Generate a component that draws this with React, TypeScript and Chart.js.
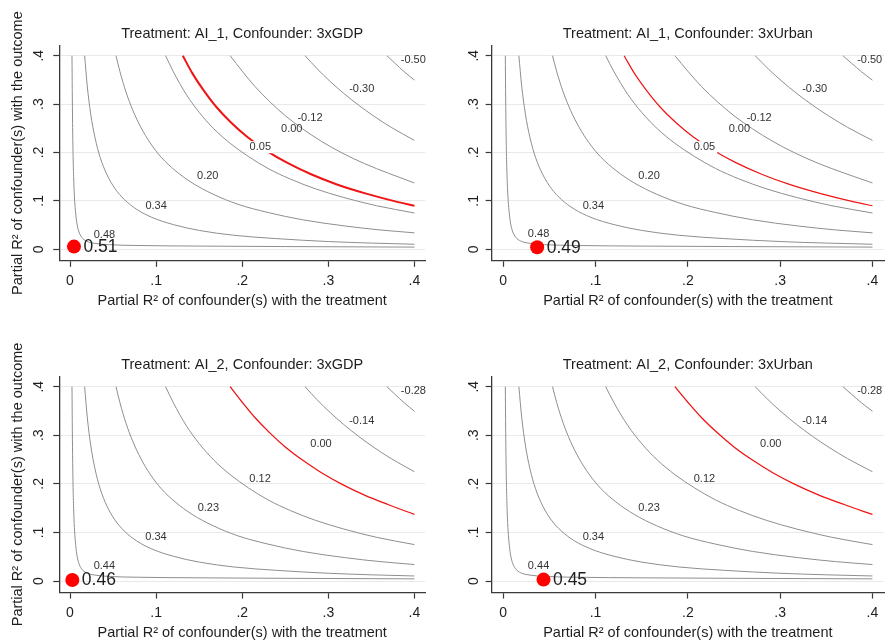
import React, { useEffect, useRef } from "react";
import { Chart, registerables } from "chart.js";

Chart.register(...registerables);

const FONT = '"Liberation Sans", Arial, Helvetica, sans-serif';

// ---- axis ticks ----
const axisTicks = [0, 0.1, 0.2, 0.3, 0.4];
const axisTickLabels = ["0", ".1", ".2", ".3", ".4"];

// ---- contour curves: [R2 with treatment, R2 with outcome] ----
const curveA: number[][] = [
  [0.0023, 0.4], [0.0026, 0.33], [0.003, 0.26], [0.0035, 0.2], [0.0042, 0.15], [0.0051, 0.11],
  [0.0063, 0.08], [0.0078, 0.056], [0.01, 0.038], [0.0135, 0.025], [0.019, 0.017], [0.028, 0.0125],
  [0.045, 0.0095], [0.08, 0.0078], [0.15, 0.0066], [0.25, 0.0056], [0.4, 0.0045],
];
const curveB: number[][] = [
  [0.017, 0.4], [0.02, 0.338], [0.024, 0.28], [0.029, 0.231], [0.035, 0.19], [0.043, 0.154],
  [0.052, 0.126], [0.063, 0.103], [0.077, 0.083], [0.095, 0.066], [0.12, 0.051], [0.15, 0.039],
  [0.19, 0.029], [0.24, 0.022], [0.3, 0.016], [0.35, 0.0128], [0.4, 0.0104],
];
const curveC: number[][] = [
  [0.0534, 0.4], [0.058, 0.367], [0.065, 0.325], [0.073, 0.287], [0.082, 0.253], [0.093, 0.22],
  [0.106, 0.19], [0.122, 0.163], [0.142, 0.137], [0.166, 0.114], [0.195, 0.093], [0.23, 0.076],
  [0.27, 0.061], [0.32, 0.048], [0.36, 0.04], [0.4, 0.034],
];
const curveD: number[][] = [
  [0.111, 0.4], [0.12, 0.367], [0.135, 0.32], [0.15, 0.283], [0.167, 0.249], [0.186, 0.219],
  [0.207, 0.192], [0.23, 0.167], [0.256, 0.145], [0.285, 0.125], [0.318, 0.107], [0.356, 0.09],
  [0.4, 0.075],
];
const curveZeroAI1: number[][] = [
  [0.131, 0.4], [0.142, 0.364], [0.155, 0.329], [0.17, 0.294], [0.187, 0.262], [0.206, 0.232],
  [0.228, 0.204], [0.252, 0.179], [0.28, 0.155], [0.31, 0.134], [0.344, 0.115], [0.38, 0.098],
  [0.4, 0.09],
];
const curveE: number[][] = [
  [0.186, 0.4], [0.2, 0.368], [0.215, 0.336], [0.232, 0.305], [0.25, 0.276], [0.27, 0.249],
  [0.292, 0.223], [0.316, 0.199], [0.342, 0.177], [0.37, 0.157], [0.4, 0.137],
];
const curveF: number[][] = [
  [0.273, 0.4], [0.287, 0.373], [0.302, 0.347], [0.318, 0.322], [0.335, 0.298], [0.353, 0.275],
  [0.373, 0.252], [0.4, 0.225],
];
const curveG: number[][] = [
  [0.368, 0.4], [0.377, 0.385], [0.388, 0.367], [0.4, 0.3495],
];

// ---- contour labels: [text, x, y] ----
const labelsAI1GDP: [string, number, number][] = [
  ["0.48", 0.04, 0.03], ["0.34", 0.1, 0.09], ["0.20", 0.16, 0.151], ["0.05", 0.221, 0.211],
  ["0.00", 0.2575, 0.2486], ["-0.12", 0.2787, 0.2707], ["-0.30", 0.3388, 0.331], ["-0.50", 0.3987, 0.391],
];
const labelsAI1Urban: [string, number, number][] = [
  ["0.48", 0.0383, 0.031], ["0.34", 0.0977, 0.09], ["0.20", 0.158, 0.1515], ["0.05", 0.218, 0.211],
  ["0.00", 0.2558, 0.2485], ["-0.12", 0.2773, 0.2706], ["-0.30", 0.3374, 0.331], ["-0.50", 0.397, 0.391],
];
const labelsAI2GDP: [string, number, number][] = [
  ["0.44", 0.0399, 0.0309], ["0.34", 0.0999, 0.0899], ["0.23", 0.1607, 0.151], ["0.12", 0.2207, 0.21],
  ["0.00", 0.2915, 0.282], ["-0.14", 0.3388, 0.33], ["-0.28", 0.3988, 0.391],
];
const labelsAI2Urban: [string, number, number][] = [
  ["0.44", 0.0383, 0.0309], ["0.34", 0.0977, 0.0899], ["0.23", 0.158, 0.151], ["0.12", 0.218, 0.21],
  ["0.00", 0.2898, 0.282], ["-0.14", 0.3374, 0.33], ["-0.28", 0.397, 0.391],
];

// ---- benchmark points ----
const pointAI1GDP = [0.0046, 0.0055];
const pointAI1Urban = [0.0368, 0.0041];
const pointAI2GDP = [0.0027, 0.002];
const pointAI2Urban = [0.0437, 0.003];
const pointValues = ["0.51", "0.49", "0.46", "0.45"];

const titles = [
  "Treatment: AI_1, Confounder: 3xGDP",
  "Treatment: AI_1, Confounder: 3xUrban",
  "Treatment: AI_2, Confounder: 3xGDP",
  "Treatment: AI_2, Confounder: 3xUrban",
];
const xTitle = "Partial R\u00B2 of confounder(s) with the treatment";
const yTitle = "Partial R\u00B2 of confounder(s) with the outcome";

type Panel = {
  title: string;
  gray: number[][][];
  red: number[][];
  labels: [string, number, number][];
  gapLabel: string | null;
  point: number[];
  pointText: string;
  showYTitle: boolean;
  left: number; top: number; w: number; h: number;
  yW: number; xH: number; padR: number;
  tPadT: number; tPadB: number;
  xTickPad: number; xTitlePadB: number;
  yTickPad: number; yTitlePadT: number;
  redWidth: number;
};

const panels: Panel[] = [
  {
    title: titles[0], gray: [curveA, curveB, curveC, curveD, curveE, curveF, curveG], red: curveZeroAI1,
    labels: labelsAI1GDP, gapLabel: "0.05", point: pointAI1GDP, pointText: pointValues[0], showYTitle: true,
    left: 0, top: 0, w: 445, h: 320, yW: 59.24, xH: 59.2, padR: 19.8, tPadT: 25.1, tPadB: 2.85,
    xTickPad: 5.8, xTitlePadB: 10.3, yTickPad: 7.95, yTitlePadT: 9.6, redWidth: 2,
  },
  {
    title: titles[1], gray: [curveA, curveB, curveC, curveD, curveE, curveF, curveG], red: curveZeroAI1,
    labels: labelsAI1Urban, gapLabel: "0.05", point: pointAI1Urban, pointText: pointValues[1], showYTitle: false,
    left: 445, top: 0, w: 446, h: 320, yW: 46.65, xH: 59.2, padR: 3.4, tPadT: 25.1, tPadB: 2.85,
    xTickPad: 5.8, xTitlePadB: 10.3, yTickPad: 5.3, yTitlePadT: 9.6, redWidth: 1.2,
  },
  {
    title: titles[2], gray: [curveA, curveB, curveC, curveD, curveF, curveG], red: curveE,
    labels: labelsAI2GDP, gapLabel: null, point: pointAI2GDP, pointText: pointValues[2], showYTitle: true,
    left: 0, top: 320, w: 445, h: 330, yW: 59.24, xH: 57.4, padR: 19.8, tPadT: 36.6, tPadB: 2.3,
    xTickPad: 5.7, xTitlePadB: 8.6, yTickPad: 7.95, yTitlePadT: 9.6, redWidth: 1.3,
  },
  {
    title: titles[3], gray: [curveA, curveB, curveC, curveD, curveF, curveG], red: curveE,
    labels: labelsAI2Urban, gapLabel: null, point: pointAI2Urban, pointText: pointValues[3], showYTitle: false,
    left: 445, top: 320, w: 446, h: 330, yW: 46.65, xH: 57.4, padR: 3.4, tPadT: 36.6, tPadB: 2.3,
    xTickPad: 5.7, xTitlePadB: 8.6, yTickPad: 5.3, yTitlePadT: 9.6, redWidth: 1.3,
  },
];

const X_MIN = -0.0125, X_MAX = 0.4125, Y_MIN = -0.0238, Y_MAX = 0.4214;
const GRAY = "#8e8e8e";
const RED = "#f01414";
const AXIS = "#3a3a3a";
const TEXT = "#1e1e1e";

function PanelChart({ p }: { p: Panel }) {
  const ref = useRef<HTMLCanvasElement | null>(null);
  useEffect(() => {
    if (!ref.current) return;
    const toXY = (c: number[][]) => c.map(([x, y]) => ({ x, y }));
    const lineDs = (c: number[][], color: string, width: number) => ({
      data: toXY(c), showLine: true, borderColor: color, borderWidth: width,
      pointRadius: 0, pointHoverRadius: 0, cubicInterpolationMode: "monotone" as const,
      fill: false, order: 2,
    });
    const datasets: any[] = [
      {
        data: [{ x: p.point[0], y: p.point[1] }], pointRadius: 7, pointBorderWidth: 0,
        pointBackgroundColor: "#ff0000", backgroundColor: "#ff0000", borderColor: "#ff0000", showLine: false, order: 0,
      },
      lineDs(p.red, RED, p.redWidth),
      ...p.gray.map((c) => lineDs(c, GRAY, 1)),
    ];
    const textPlugin = {
      id: "contourText",
      afterDatasetsDraw(chart: any) {
        const { ctx, scales } = chart;
        ctx.save();
        ctx.font = `11px ${FONT}`;
        ctx.textAlign = "center";
        ctx.textBaseline = "middle";
        for (const [txt, x, y] of p.labels) {
          const px = scales.x.getPixelForValue(x);
          const py = scales.y.getPixelForValue(y);
          if (p.gapLabel === txt) {
            const w = ctx.measureText(txt).width;
            ctx.fillStyle = "#ffffff";
            ctx.fillRect(px - w / 2 - 2, py - 6, w + 4, 12);
          }
          ctx.fillStyle = "#333333";
          ctx.fillText(txt, px, py);
        }
        ctx.font = `17.5px ${FONT}`;
        ctx.textAlign = "left";
        ctx.fillStyle = TEXT;
        const dx = scales.x.getPixelForValue(p.point[0]);
        const dy = scales.y.getPixelForValue(p.point[1]);
        ctx.fillText(p.pointText, dx + 9.5, dy + 0.5);
        ctx.restore();
      },
    };
    const chart = new Chart(ref.current, {
      type: "scatter",
      data: { datasets },
      plugins: [textPlugin],
      options: {
        responsive: false,
        animation: false,
        events: [],
        layout: { padding: { left: 0, top: 0, bottom: 0, right: p.padR } },
        plugins: {
          legend: { display: false },
          tooltip: { enabled: false },
          title: {
            display: true, text: p.title, fullSize: false, color: TEXT,
            font: { family: FONT, size: 14.5, weight: "normal" as any },
            padding: { top: p.tPadT, bottom: p.tPadB },
          },
        },
        scales: {
          x: {
            type: "linear", min: X_MIN, max: X_MAX,
            afterBuildTicks: (s: any) => { s.ticks = axisTicks.map((v) => ({ value: v })); },
            afterFit: (s: any) => { s.height = p.xH; },
            ticks: {
              callback: (_v: any, i: number) => axisTickLabels[i], autoSkip: false, maxRotation: 0, minRotation: 0,
              color: TEXT, font: { family: FONT, size: 14 }, padding: p.xTickPad,
            },
            grid: { drawOnChartArea: false, drawTicks: true, tickLength: 6, tickColor: AXIS, tickWidth: 1.2 },
            border: { display: true, color: AXIS, width: 1.3 },
            title: {
              display: true, text: xTitle, color: TEXT, font: { family: FONT, size: 14.5 },
              padding: { top: 0, bottom: p.xTitlePadB },
            },
          },
          y: {
            type: "linear", min: Y_MIN, max: Y_MAX,
            afterBuildTicks: (s: any) => { s.ticks = axisTicks.map((v) => ({ value: v })); },
            afterFit: (s: any) => { s.width = p.yW; },
            ticks: {
              callback: (_v: any, i: number) => axisTickLabels[i], autoSkip: false, minRotation: 90, maxRotation: 90,
              crossAlign: "center", color: TEXT, font: { family: FONT, size: 14 }, padding: p.yTickPad,
            },
            grid: { color: "#e9e9e9", lineWidth: 1, drawTicks: true, tickLength: 6, tickColor: AXIS, tickWidth: 1.2 },
            border: { display: true, color: AXIS, width: 1.3 },
            title: {
              display: p.showYTitle, text: yTitle, color: TEXT, font: { family: FONT, size: 14.5 },
              padding: { top: p.yTitlePadT, bottom: 0 },
            },
          },
        },
      } as any,
    });
    return () => chart.destroy();
  }, [p]);
  return (
    <canvas
      ref={ref}
      width={p.w}
      height={p.h}
      style={{ position: "absolute", left: p.left, top: p.top, width: p.w, height: p.h }}
    />
  );
}

export default function App() {
  return (
    <div
      style={{
        position: "fixed", left: 0, top: 0, width: 891, height: 641,
        overflow: "hidden", background: "#ffffff",
      }}
    >
      {panels.map((p, i) => (
        <PanelChart key={i} p={p} />
      ))}
    </div>
  );
}
